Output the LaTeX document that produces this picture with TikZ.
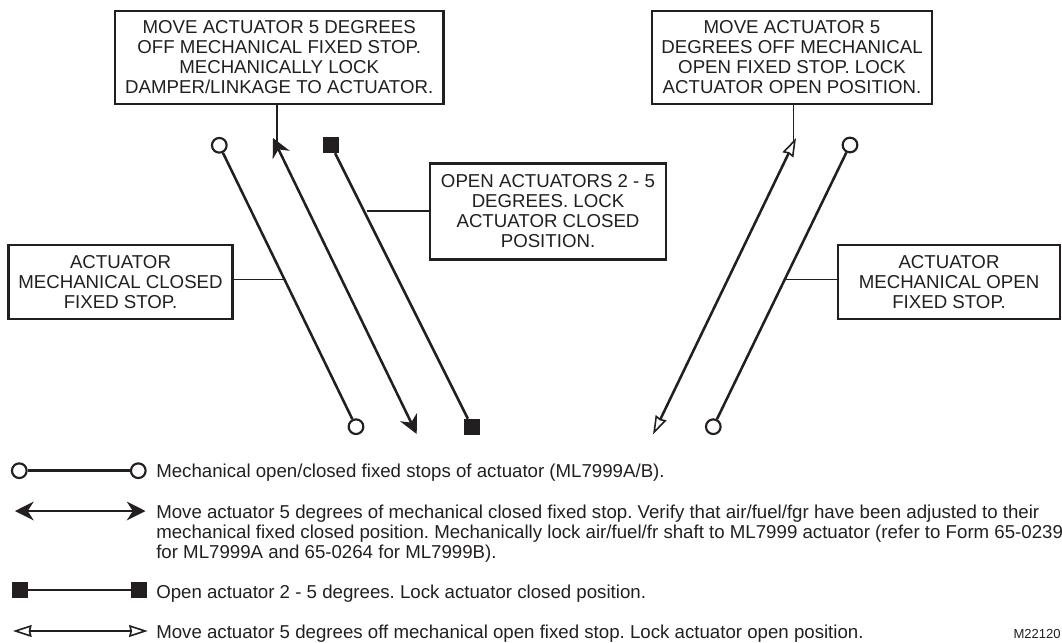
\documentclass[tikz,border=0pt]{standalone}
\usepackage{fontspec}
\setmainfont{Liberation Sans}
\frenchspacing
\usetikzlibrary{arrows.meta}
\definecolor{ink}{HTML}{231F20}
\tikzset{
  x=0.75pt,y=-0.75pt,
  every node/.style={text=ink},
  note/.style={draw=ink,line width=1.7pt,fill=white,align=center,font=\fontsize{14}{15}\selectfont,inner sep=0pt},
  legend/.style={align=left,inner sep=0pt,font=\fontsize{14}{15}\selectfont},
  stem/.style={draw=ink,line width=1.9pt},
  tie/.style={draw=ink,line width=0.8pt},
  ring/.style={circle,draw=ink,line width=1.6pt,fill=white,minimum size=11pt,inner sep=0pt},
  block/.style={rectangle,fill=ink,minimum size=12pt,inner sep=0pt},
  solidhead/.tip={Stealth[length=14pt,width=14pt,inset=4.5pt,fill=ink]},
  hollowhead/.tip={Stealth[length=14pt,width=9pt,inset=1pt,fill=white,line width=1.2pt]},
  bothsolid/.style={solidhead-solidhead},
  bothhollow/.style={hollowhead-hollowhead},
}
\begin{document}
\begin{tikzpicture}
\useasboundingbox (0,0) rectangle (1062,642);
% boxes
\node[note,minimum width=246.4pt,minimum height=70pt] (b1) at (279.2,57.5) {MOVE ACTUATOR 5 DEGREES\\OFF MECHANICAL FIXED STOP.\\MECHANICALLY LOCK\\DAMPER/LINKAGE TO ACTUATOR.};
\node[note,minimum width=210pt,minimum height=70pt] (b2) at (792,57.5) {MOVE ACTUATOR 5\\DEGREES OFF MECHANICAL\\OPEN FIXED STOP. LOCK\\ACTUATOR OPEN POSITION.};
\node[note,minimum width=177pt,minimum height=72pt] (b3) at (548,211.5) {OPEN ACTUATORS 2 - 5\\DEGREES. LOCK\\ACTUATOR CLOSED\\POSITION.};
\node[note,minimum width=168pt,minimum height=55.5pt] (b4) at (120.5,282) {ACTUATOR\\MECHANICAL CLOSED\\FIXED STOP.};
\node[note,minimum width=167pt,minimum height=55.5pt] (b5) at (949,282) {ACTUATOR\\MECHANICAL OPEN\\FIXED STOP.};
% end points
\node[ring] (c1a) at (219.3,145.3) {};
\node[ring] (c1b) at (356,426.7) {};
\node[block] (s1a) at (331,145) {};
\node[block] (s1b) at (472,427) {};
\node[ring] (c2a) at (850,145) {};
\node[ring] (c2b) at (713.3,426.7) {};
\coordinate (a1a) at (273,138);
\coordinate (a1b) at (416.7,434);
\coordinate (a2a) at (796,138);
\coordinate (a2b) at (653,434.5);
% stems
\draw[stem] (c1a) -- (c1b);
\draw[stem] (s1a) -- (s1b);
\draw[stem] (c2a) -- (c2b);
\draw[stem,bothsolid] (a1a) -- (a1b);
\draw[stem,bothhollow] (a2a) -- (a2b);
% ties
\coordinate (t1) at (277,146);
\draw[tie] (b1.south -| t1) -- (t1);
\coordinate (t2) at (793.4,141);
\draw[tie] (b2.south -| t2) -- (t2);
\coordinate (t3) at (366.7,211);
\draw[tie] (b3.west |- t3) -- (t3);
\coordinate (t4) at (284,279.5);
\draw[tie] (b4.east |- t4) -- (t4);
\coordinate (t5) at (786,279.5);
\draw[tie] (b5.west |- t5) -- (t5);
% legend
\node[ring] (l1a) at (19.3,470.7) {};
\node[ring] (l1b) at (138.3,470.7) {};
\draw[stem] (l1a) -- (l1b);
\node[legend,anchor=base west] (t1l) at (156,477.5) {Mechanical open/closed fixed stops of actuator (ML7999A/B).};
\coordinate (l2a) at (15,511);
\coordinate (l2b) at (145.5,511);
\draw[stem,bothsolid] (l2a) -- (l2b);
\node[legend,anchor=north west] (t2l) at (156,504.5) {Move actuator 5 degrees of mechanical closed fixed stop. Verify that air/fuel/fgr have been adjusted to their\\mechanical fixed closed position. Mechanically lock air/fuel/fr shaft to ML7999 actuator (refer to Form 65-0239\\for ML7999A and 65-0264 for ML7999B).};
\node[block] (l3a) at (20,590) {};
\node[block] (l3b) at (139,590) {};
\draw[stem] (l3a) -- (l3b);
\node[legend,anchor=base west] (t3l) at (156,598) {Open actuator 2 - 5 degrees. Lock actuator closed position.};
\coordinate (l4a) at (13,631);
\coordinate (l4b) at (147.7,631);
\draw[stem,bothhollow] (l4a) -- (l4b);
\node[legend,anchor=base west] (t4l) at (156,638) {Move actuator 5 degrees off mechanical open fixed stop. Lock actuator open position.};
\node[anchor=base east,inner sep=0pt,font=\fontsize{9.8}{11}\selectfont] (code) at (1061,638) {M22120};
\end{tikzpicture}
\end{document}
